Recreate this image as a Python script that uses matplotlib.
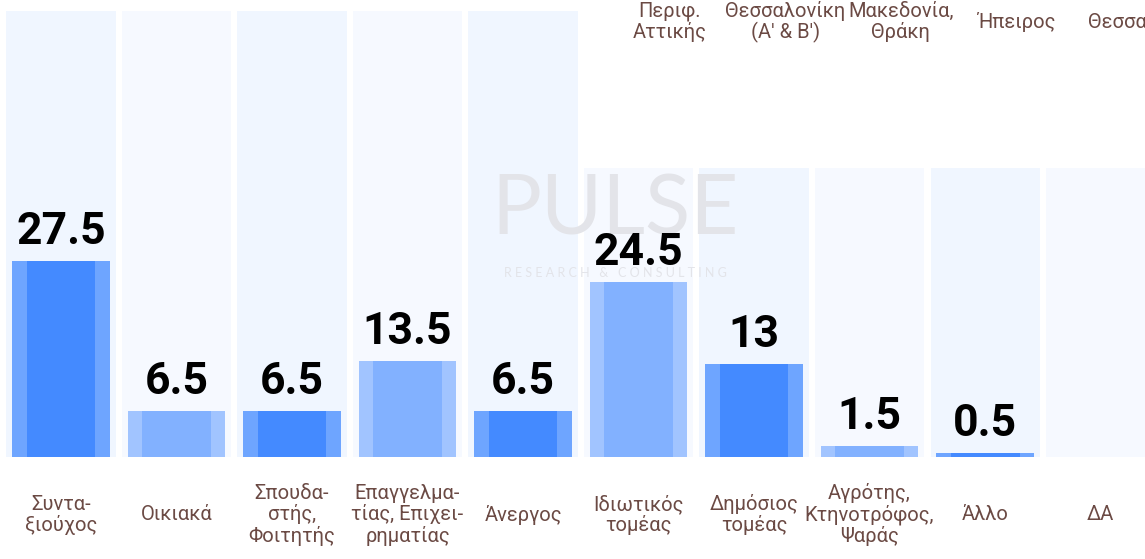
import matplotlib
matplotlib.use("Agg")
import matplotlib.pyplot as plt
import numpy as np

# ---- data
categories = [
    "Συντα-\nξιούχος",
    "Οικιακά",
    "Σπουδα-\nστής,\nΦοιτητής",
    "Επαγγελμα-\nτίας, Επιχει-\nρηματίας",
    "Άνεργος",
    "Ιδιωτικός\nτομέας",
    "Δημόσιος\nτομέας",
    "Αγρότης,\nΚτηνοτρόφος,\nΨαράς",
    "Άλλο",
    "ΔΑ",
]
values = [27.5, 6.5, 6.5, 13.5, 6.5, 24.5, 13, 1.5, 0.5, 0]
value_labels = ["27.5", "6.5", "6.5", "13.5", "6.5", "24.5", "13", "1.5", "0.5", ""]
panel_heights = [62.5, 62.5, 62.5, 62.5, 62.5, 40.5, 40.5, 40.5, 40.5, 40.5]
region_labels = ["Περιφ.\nΑττικής", "Θεσσαλονίκη\n(Α' & Β')", "Μακεδονία,\nΘράκη",
                 "Ήπειρος", "Θεσσαλία"]
region_pos = [5, 6, 7, 8, 9]

# ---- style
plt.rcParams["font.family"] = ["Roboto", "DejaVu Sans"]
dark = ("#448aff", "#6ea5ff")     # (center, edge)
light = ("#82b1ff", "#a1c4ff")
panel_cols = ["#f0f6ff", "#f6f9ff"]
text_brown = "#6b4a44"

fig = plt.figure(figsize=(11.45, 5.59), dpi=100)
ax = fig.add_axes([0, 0, 1, 1])
ax.set_xlim(-0.528, 9.385)
ax.set_ylim(-14.3, 64.1)
ax.axis("off")

x = np.arange(len(values))

# background panels
ax.bar(x, panel_heights, width=0.944,
       color=[panel_cols[i % 2] for i in x], zorder=1)

# watermark
ax.text(4.8, 34.4, "PULSE", fontsize=60, family=["Lato", "DejaVu Sans"],
        color="#e3e4e9", ha="center", va="center", zorder=2)
ax.text(4.8, 25.8, "R E S E A R C H   &   C O N S U L T I N G", fontsize=9,
        family=["Lato", "DejaVu Sans"], color="#e3e4e9", ha="center", va="center",
        zorder=2)

# bars: lighter outer band + darker center
for i, v in enumerate(values):
    if v <= 0:
        continue
    center, edge = dark if i % 2 == 0 else light
    ax.bar(i, v, width=0.848, color=edge, zorder=3)
    ax.bar(i, v, width=0.597, color=center, zorder=4)
    ax.text(i, v + 2.4, value_labels[i], ha="center", va="baseline",
            fontsize=32, fontweight="bold", color="black", zorder=5)

# category labels below
for i, lab in enumerate(categories):
    ax.text(i, -8.1, lab, ha="center", va="center", fontsize=14.5,
            color=text_brown, linespacing=1.08)

# region labels at the top (offset, partially cut at the right edge)
for p, lab in zip(region_pos, region_labels):
    ax.text(p + 0.27, 61.0, lab, ha="center", va="center", fontsize=14.5,
            color=text_brown, linespacing=1.08)

fig.savefig("out.png", dpi=100, facecolor="white")
